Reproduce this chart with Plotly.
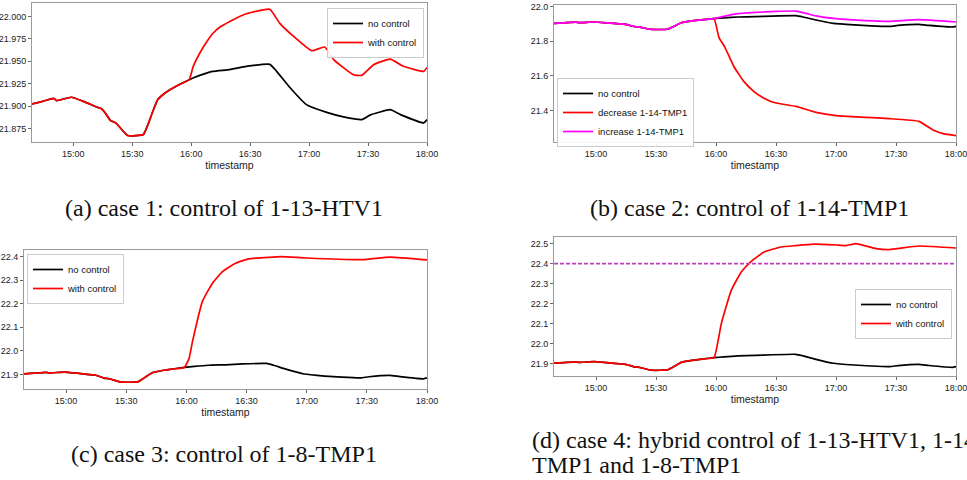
import plotly.graph_objects as go

DAY = "2021-01-01 "

# shared history before control starts (HH:MM, value)
base_t = ["14:39", "14:44", "14:50", "14:51:30", "14:59", "15:05:30", "15:13", "15:14", "15:16",
          "15:19", "15:21", "15:22", "15:27:40", "15:35:40", "15:38", "15:40:30", "15:43",
          "15:44:40", "15:48", "15:54", "15:59"]
base_v = [21.9024, 21.905, 21.9087, 21.9061, 21.9099, 21.905, 21.898, 21.8976, 21.8932,
          21.8839, 21.882, 21.8805, 21.8672, 21.8683, 21.8794, 21.8943, 21.9073,
          21.911, 21.9165, 21.924, 21.9295]

# no control continuation
nc_t = ["16:04", "16:11", "16:19:30", "16:28", "16:40", "16:43:30", "16:50", "16:58:40",
        "17:09", "17:17:30", "17:26:50", "17:31", "17:41:20", "17:46:30", "17:58:20", "18:00"]
nc_v = [21.934, 21.9388, 21.9407, 21.9443, 21.9466, 21.9388, 21.9213, 21.9017,
        21.893, 21.888, 21.885, 21.890, 21.896, 21.8905, 21.8813, 21.885]

# case 1: control of 1-13-HTV1
c1_t = ["16:01", "16:04:20", "16:08", "16:11", "16:14:30", "16:19:40", "16:28", "16:40", "16:45",
        "16:52", "17:01:20", "17:08", "17:12:30", "17:22:30", "17:26:50", "17:32:50",
        "17:41:20", "17:48", "17:58:20", "18:00"]
c1_v = [21.944, 21.959, 21.972, 21.981, 21.9879, 21.9944, 22.003, 22.008, 21.9926,
        21.978, 21.9618, 21.9659, 21.9518, 21.935, 21.9343, 21.9462,
        21.9525, 21.9444, 21.9388, 21.9432]

# case 2: decrease / increase 1-14-TMP1
dec_t = ["16:01:30", "16:04:20", "16:09", "16:14", "16:19", "16:24", "16:29", "16:40",
         "16:50", "17:00", "17:15", "17:26:30", "17:41:30", "17:49", "17:54", "18:00"]
dec_v = [21.82, 21.767, 21.652, 21.566, 21.509, 21.471, 21.446, 21.423,
         21.389, 21.370, 21.36, 21.353, 21.337, 21.284, 21.265, 21.255]
inc_t = ["16:05", "16:10", "16:20", "16:30", "16:40", "16:45", "16:50", "17:00",
         "17:15", "17:26:30", "17:41:30", "18:00"]
inc_v = [21.945, 21.957, 21.965, 21.971, 21.973, 21.960, 21.945, 21.929,
         21.918, 21.914, 21.924, 21.910]

# case 3: control of 1-8-TMP1
c3_t = ["16:01:20", "16:03", "16:08", "16:13", "16:18", "16:24:30", "16:31", "16:41",
        "16:47:30", "17:00", "17:27:50", "17:41:30", "18:00"]
c3_v = [21.968, 22.038, 22.21, 22.287, 22.336, 22.372, 22.39, 22.397,
        22.4, 22.394, 22.387, 22.398, 22.386]

# case 4: hybrid control
c4_t = ["16:02:40", "16:07:40", "16:12:40", "16:17:30", "16:24", "16:32:30", "16:40",
        "16:49", "17:00", "17:05", "17:10", "17:20", "17:26:30", "17:41:30", "18:00"]
c4_v = [22.1, 22.267, 22.358, 22.41, 22.458, 22.483, 22.49,
        22.497, 22.493, 22.49, 22.5, 22.475, 22.47, 22.488, 22.478]
threshold4 = 22.4

x_ticks = ["15:00", "15:30", "16:00", "16:30", "17:00", "17:30", "18:00"]
x_range = ["14:39", "18:00"]

captions = ["(a) case 1: control of 1-13-HTV1", "(b) case 2: control of 1-14-TMP1",
            "(c) case 3: control of 1-8-TMP1",
            "(d) case 4: hybrid control of 1-13-HTV1, 1-14-", "TMP1 and 1-8-TMP1"]


def ts(lst):
    return [DAY + s for s in lst]


full_nc_t = ts(base_t + nc_t)
full_nc_v = base_v + nc_v

FAM = "Liberation Sans, Arial, sans-serif"
TICKFONT = dict(family=FAM, size=9, color="#222")
LEGFONT = dict(family=FAM, size=9.5, color="#111")

fig = go.Figure()

panels = [
    ("", "legend", [("no control", "#000000", full_nc_t, full_nc_v),
                    ("with control", "#ff0000", ts(base_t + c1_t), base_v + c1_v)]),
    ("2", "legend2", [("no control", "#000000", full_nc_t, full_nc_v),
                      ("decrease 1-14-TMP1", "#ff0000", ts(base_t + dec_t), base_v + dec_v),
                      ("increase 1-14-TMP1", "#ff00ff", ts(base_t + inc_t), base_v + inc_v)]),
    ("3", "legend3", [("no control", "#000000", full_nc_t, full_nc_v),
                      ("with control", "#ff0000", ts(base_t + c3_t), base_v + c3_v)]),
    ("4", "legend4", [("no control", "#000000", full_nc_t, full_nc_v),
                      ("with control", "#ff0000", ts(base_t + c4_t), base_v + c4_v)]),
]

for ax, leg, series in panels:
    for name, color, xs, ys in series:
        fig.add_trace(go.Scatter(x=xs, y=ys, mode="lines", name=name,
                                 line=dict(color=color, width=1.7, shape="spline", smoothing=0.4),
                                 xaxis="x" + ax, yaxis="y" + ax, legend=leg))

fig.add_shape(type="line", xref="x4 domain", yref="y4", x0=0, x1=1,
              y0=threshold4, y1=threshold4,
              line=dict(color="#c040c0", width=1.8, dash="4px,2px"))

W, H = 967, 480


def dom_x(a, b):
    return [a / W, b / W]


def dom_y(top, bottom):
    return [1 - bottom / H, 1 - top / H]


axis_common = dict(showline=True, mirror=True, linecolor="#9a9a9a", linewidth=1,
                   showgrid=False, zeroline=False, ticks="outside", ticklen=3,
                   tickcolor="#666", tickfont=TICKFONT, automargin=False,
                   ticklabeloverflow="allow")

specs = [
    ("", dom_x(32, 427), dom_y(3, 142), [21.860, 22.015], 0.025, ".3f"),
    ("2", dom_x(554, 956), dom_y(5, 142), [21.218, 22.008], 0.2, ".1f"),
    ("3", dom_x(24, 427), dom_y(250, 389), [21.838, 22.428], 0.1, ".1f"),
    ("4", dom_x(554, 956), dom_y(237, 376), [21.838, 22.533], 0.1, ".1f"),
]

layout = {}
for ax, xd, yd, yr, dt, fmt in specs:
    k = ax if ax else ""
    layout["xaxis" + k] = dict(domain=xd, anchor="y" + ax, type="date",
                               range=ts(x_range), tickvals=ts(x_ticks), ticktext=x_ticks,
                               title=dict(text="timestamp", font=dict(family=FAM, size=10.5, color="#222"), standoff=2),
                               **axis_common)
    layout["yaxis" + k] = dict(domain=yd, anchor="x" + ax, range=yr, dtick=dt,
                               tick0=21.0, tickformat=fmt, **axis_common)

leg_common = dict(bgcolor="rgba(255,255,255,0.9)", bordercolor="#cccccc", borderwidth=1,
                  font=LEGFONT, yanchor="top", tracegroupgap=0, itemwidth=30)
layout["legend"] = dict(x=424 / W, xanchor="right", y=1 - 8 / H, **leg_common)
layout["legend2"] = dict(x=557 / W, xanchor="left", y=1 - 78 / H, **leg_common)
layout["legend3"] = dict(x=27 / W, xanchor="left", y=1 - 254 / H, **leg_common)
layout["legend4"] = dict(x=952 / W, xanchor="right", y=1 - 289 / H, **leg_common)

fig.update_layout(width=W, height=H, margin=dict(l=0, r=0, t=0, b=0, autoexpand=False),
                  paper_bgcolor="white", plot_bgcolor="white", **layout)

CAPFONT = dict(family="Liberation Serif, Times New Roman, serif", size=24, color="#111")
cap_pos = [(63, 208), (588, 208), (69, 454), (530, 440), (530, 465)]
for text, (cx, cy) in zip(captions, cap_pos):
    fig.add_annotation(text=text, xref="paper", yref="paper", x=cx / W, y=1 - cy / H,
                       xanchor="left", yanchor="middle", showarrow=False, font=CAPFONT)

fig.write_html("out.html", config={"displayModeBar": False},
               post_script="document.body.style.margin='0px';document.body.style.overflow='hidden';")
